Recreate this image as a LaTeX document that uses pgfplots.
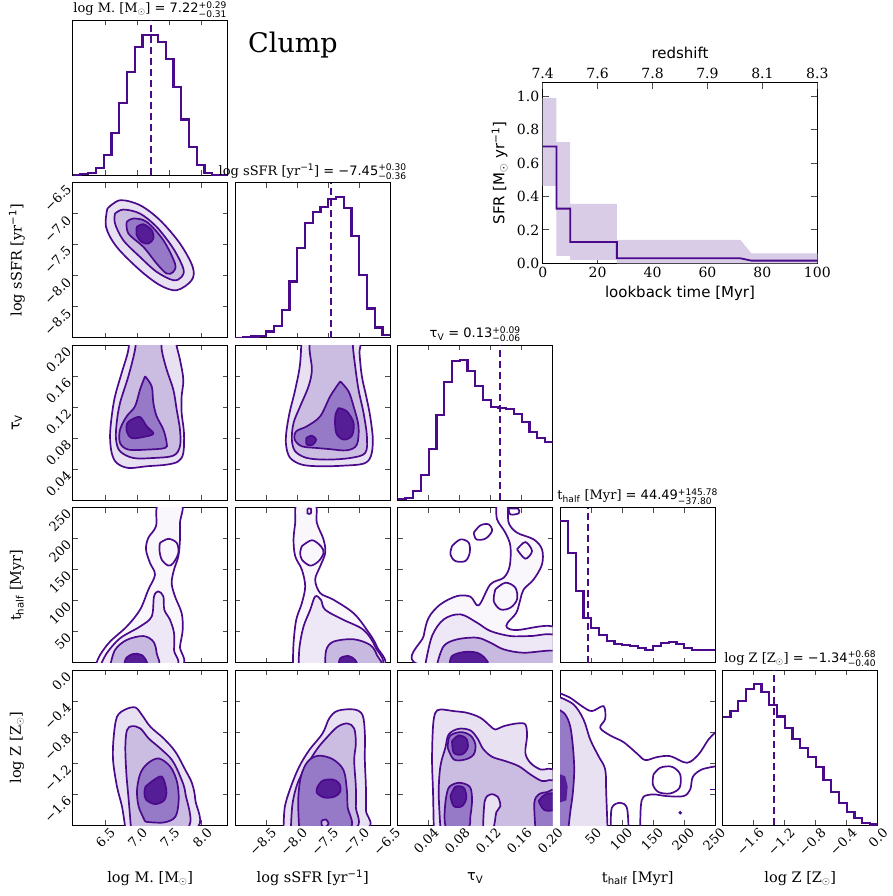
\documentclass[border=0pt]{standalone}
\usepackage{fontspec}
\setmainfont{DejaVu Serif}
\setsansfont{DejaVu Sans}
\usepackage{amsmath}
\usepackage{pgfplots}
\pgfplotsset{compat=1.18}
\definecolor{cl}{RGB}{75,10,140}
\definecolor{fa}{RGB}{232,225,242}
\definecolor{fb}{RGB}{203,188,226}
\definecolor{fc}{RGB}{150,122,200}
\definecolor{fd}{RGB}{85,30,150}
\definecolor{ta}{RGB}{249,247,252}
\definecolor{tb}{RGB}{238,232,246}
\definecolor{tc}{RGB}{200,185,225}
\definecolor{band}{RGB}{216,204,230}
\newcommand{\fs}[2]{\fontsize{#1}{#2}\selectfont}
\newcommand{\val}[3]{\textsf{= #1}$^{\textsf{#2}}_{\textsf{#3}}$}
\pgfplotsset{
 cb/.style={scale only axis, width=155pt, height=155pt, anchor=north west,
   axis line style={black, line width=0.9pt},
   tick align=inside, major tick length=5pt,
   tick style={black!70, line width=0.9pt},
   xtick pos=both, ytick pos=both,
   xticklabels={}, yticklabels={},
   tick label style={font=\fs{13}{15}},
   title style={font=\fs{13}{15}, at={(0.5,1)}, anchor=south, yshift=-5pt, inner sep=2pt},
   label style={font=\fs{14.5}{17}},
 },
 ct/.style={draw=cl, line width=1.7pt, smooth, tension=0.55},
 hs/.style={draw=cl, line width=2.1pt, const plot mark left},
 dl/.style={draw=cl, line width=1.9pt, dash pattern=on 7pt off 4pt},
 hy/.style={ymin=0, ymax=1, ytick=\empty},
 xM/.style={xmin=6,xmax=8.4,xtick={6.5,7,7.5,8}},
 xS/.style={xmin=-9,xmax=-6.5,xtick={-8.5,-8,-7.5,-7,-6.5}},
 xT/.style={xmin=0,xmax=0.2,xtick={0.04,0.08,0.12,0.16,0.2}},
 xH/.style={xmin=0,xmax=250,xtick={50,100,150,200,250}},
 xZ/.style={xmin=-2,xmax=0,xtick={-1.6,-1.2,-0.8,-0.4,0}},
 yS/.style={ymin=-9,ymax=-6.5,ytick={-8.5,-8,-7.5,-7,-6.5}},
 yT/.style={ymin=0,ymax=0.2,ytick={0.04,0.08,0.12,0.16,0.2}},
 yH/.style={ymin=0,ymax=250,ytick={50,100,150,200,250}},
 yZ/.style={ymin=-2,ymax=0,ytick={-1.6,-1.2,-0.8,-0.4,0}},
 lx/.style={xticklabel style={rotate=45, anchor=north east, xshift=5pt, yshift=-1pt},
   xlabel style={at={(axis description cs:0.5,-0.342)}, anchor=center}},
 ly/.style={yticklabel style={rotate=45, anchor=east, xshift=-2pt},
   ylabel style={at={(axis description cs:-0.36,0.5)}, anchor=center}},
 lxM/.style={lx, xticklabels={6.5,7.0,7.5,8.0}, xlabel={log M. [M$_\odot$]}},
 lxS/.style={lx, xticklabels={−8.5,−8.0,−7.5,−7.0,−6.5}, xlabel={log sSFR [yr\textsuperscript{\textsf{−1}}]}},
 lxT/.style={lx, xticklabels={0.04,0.08,0.12,0.16,0.20}, xlabel={\textsf{τ\textsubscript{V}}}},
 lxH/.style={lx, xticklabels={50,100,150,200,250}, xlabel={t\textsubscript{\textsf{half}} [Myr]}},
 lxZ/.style={lx, xticklabels={−1.6,−1.2,−0.8,−0.4,0.0}, xlabel={log Z [Z$_\odot$]}},
 lyS/.style={ly, yticklabels={−8.5,−8.0,−7.5,−7.0,−6.5}, ylabel={log sSFR [yr\textsuperscript{\textsf{−1}}]}},
 lyT/.style={ly, yticklabels={0.04,0.08,0.12,0.16,0.20}, ylabel={\textsf{τ\textsubscript{V}}}},
 lyH/.style={ly, yticklabels={50,100,150,200,250}, ylabel={t\textsubscript{\textsf{half}} [Myr]}},
 lyZ/.style={ly, yticklabels={−1.6,−1.2,−0.8,−0.4,0.0}, ylabel={log Z [Z$_\odot$]}},
}
\begin{document}
\begin{tikzpicture}
\path[use as bounding box] (0,0) rectangle (893pt,-896pt);
\node[font=\fs{27}{30}] at (293pt,-45pt) {Clump};

% ===== row 0: log M hist
\begin{axis}[cb, xM, hy, at={(72.7pt,-20.5pt)}, title={log M. [M$_\odot$] \val{7.22}{+0.29}{−0.31}}]
\addplot[hs] coordinates {(6.00,0.004)(6.12,0.01)(6.24,0.015)(6.36,0.048)(6.48,0.134)(6.60,0.275)(6.72,0.468)(6.84,0.669)(6.96,0.829)(7.08,0.909)(7.20,0.909)(7.32,0.859)(7.44,0.749)(7.56,0.571)(7.68,0.361)(7.80,0.182)(7.92,0.067)(8.04,0.019)(8.16,0.004)(8.28,0.002)(8.40,0.002)};
\addplot[dl] coordinates {(7.215,0)(7.215,1)};
\end{axis}

% ===== row 1
\begin{axis}[cb, xM, yS, lyS, at={(72.7pt,-182.9pt)}]
\addplot[ct, fill=fa] coordinates {(6.537,-6.914)(6.733,-6.78)(7.042,-6.86)(7.352,-7.102)(7.661,-7.478)(7.858,-7.855)(7.842,-8.07)(7.61,-8.231)(7.352,-8.15)(7.042,-7.909)(6.681,-7.532)(6.516,-7.21)(6.537,-6.914)};
\addplot[ct, fill=fb] coordinates {(6.655,-6.995)(6.784,-6.93)(7.042,-6.995)(7.3,-7.21)(7.558,-7.559)(7.713,-7.882)(7.687,-8.016)(7.558,-8.07)(7.3,-7.935)(7.042,-7.694)(6.784,-7.425)(6.655,-7.156)(6.655,-6.995)};
\addplot[ct, fill=fc] coordinates {(6.836,-7.129)(6.939,-7.075)(7.146,-7.129)(7.404,-7.425)(7.584,-7.801)(7.558,-7.935)(7.455,-7.962)(7.3,-7.801)(7.094,-7.532)(6.862,-7.317)(6.836,-7.129)};
\addplot[ct, fill=fd] coordinates {(6.991,-7.21)(7.094,-7.167)(7.223,-7.263)(7.249,-7.398)(7.171,-7.478)(7.068,-7.452)(6.991,-7.344)(6.991,-7.21)};
\end{axis}
\begin{axis}[cb, xS, hy, at={(235.2pt,-182.9pt)}, title={log sSFR [yr\textsuperscript{\textsf{−1}}] \val{−7.45}{+0.30}{−0.36}}]
\addplot[hs] coordinates {(-9.000,0.002)(-8.875,0.004)(-8.750,0.009)(-8.625,0.015)(-8.500,0.041)(-8.375,0.075)(-8.250,0.181)(-8.125,0.364)(-8.000,0.58)(-7.875,0.739)(-7.750,0.81)(-7.625,0.847)(-7.500,0.897)(-7.375,0.91)(-7.250,0.838)(-7.125,0.655)(-7.000,0.407)(-6.875,0.19)(-6.750,0.067)(-6.625,0.019)(-6.500,0.019)};
\addplot[dl] coordinates {(-7.45,0)(-7.45,1)};
\end{axis}

% ===== row 2
\begin{axis}[cb, xM, yT, lyT, at={(72.7pt,-345.3pt)}]
\addplot[ct, fill=fa] coordinates {(6.8875,0.2245)(6.862,0.1944)(6.758,0.1643)(6.655,0.1342)(6.604,0.1084)(6.578,0.0826)(6.604,0.0611)(6.681,0.0482)(6.862,0.0417)(7.146,0.0439)(7.455,0.046)(7.636,0.0503)(7.713,0.0611)(7.723,0.0869)(7.687,0.1127)(7.687,0.1342)(7.713,0.1557)(7.661,0.1815)(7.6,0.203)(7.584,0.2245)(6.8875,0.2245)};
\addplot[ct, fill=fb] coordinates {(7.001,0.2245)(6.965,0.1944)(6.862,0.16)(6.733,0.1256)(6.681,0.0998)(6.671,0.0783)(6.733,0.0632)(6.939,0.0546)(7.249,0.0546)(7.558,0.0576)(7.661,0.0697)(7.661,0.0912)(7.61,0.117)(7.558,0.1428)(7.455,0.1686)(7.378,0.1944)(7.352,0.2245)(7.001,0.2245)};
\addplot[ct, fill=fc] coordinates {(7.12,0.16)(7.223,0.1471)(7.249,0.1256)(7.3,0.1084)(7.404,0.0912)(7.455,0.074)(7.429,0.0675)(7.146,0.0654)(6.862,0.0654)(6.733,0.074)(6.733,0.0912)(6.836,0.1084)(6.965,0.1213)(7.042,0.1428)(7.12,0.16)};
\addplot[ct, fill=fd] coordinates {(6.913,0.1041)(7.042,0.1075)(7.146,0.0955)(7.249,0.086)(7.094,0.0817)(6.913,0.0804)(6.836,0.089)(6.846,0.0998)(6.913,0.1041)};
\end{axis}
\begin{axis}[cb, xS, yT, at={(235.2pt,-345.3pt)}]
\addplot[ct, fill=fa] coordinates {(-7.925,0.2245)(-7.952,0.1772)(-8.032,0.1428)(-8.124,0.1127)(-8.177,0.0869)(-8.177,0.0697)(-8.113,0.0546)(-7.925,0.046)(-7.629,0.0439)(-7.253,0.0447)(-6.93,0.0473)(-6.812,0.0568)(-6.78,0.0783)(-6.823,0.1084)(-6.887,0.1342)(-6.957,0.16)(-6.995,0.1901)(-7.011,0.2245)(-7.925,0.2245)};
\addplot[ct, fill=fb] coordinates {(-7.801,0.2245)(-7.801,0.1944)(-7.763,0.1686)(-7.817,0.1471)(-7.952,0.1213)(-8.059,0.0998)(-8.086,0.0783)(-8.032,0.0632)(-7.844,0.0546)(-7.522,0.0525)(-7.145,0.0546)(-6.903,0.0611)(-6.876,0.0826)(-6.93,0.1127)(-7.011,0.1428)(-7.065,0.1729)(-7.102,0.1987)(-7.118,0.2245)(-7.801,0.2245)};
\addplot[ct, fill=fc] coordinates {(-7.306,0.1535)(-7.172,0.1406)(-7.091,0.1213)(-7.011,0.0955)(-7.038,0.0718)(-7.199,0.0645)(-7.495,0.0662)(-7.683,0.0675)(-7.925,0.0697)(-8.040,0.0783)(-8.016,0.089)(-7.844,0.0955)(-7.629,0.1084)(-7.468,0.1342)(-7.306,0.1535)};
\addplot[ct, fill=fd] coordinates {(-7.333,0.1191)(-7.199,0.1148)(-7.091,0.0998)(-7.118,0.0834)(-7.253,0.0783)(-7.371,0.0869)(-7.387,0.1084)(-7.333,0.1191)};
\addplot[ct, fill=fd] coordinates {(-7.855,0.0804)(-7.763,0.0834)(-7.694,0.0783)(-7.747,0.0718)(-7.844,0.0718)(-7.855,0.0804)};
\end{axis}
\begin{axis}[cb, xT, hy, at={(397.7pt,-345.3pt)}, title={\textsf{τ\textsubscript{V}} \val{0.13}{+0.09}{−0.06}}]
\addplot[hs] coordinates {(0.00,0.006)(0.01,0.017)(0.02,0.06)(0.03,0.161)(0.04,0.329)(0.05,0.548)(0.06,0.766)(0.07,0.901)(0.08,0.908)(0.09,0.834)(0.10,0.735)(0.11,0.647)(0.12,0.6)(0.13,0.596)(0.14,0.591)(0.15,0.559)(0.16,0.503)(0.17,0.443)(0.18,0.4)(0.19,0.376)(0.20,0.376)};
\addplot[dl] coordinates {(0.1316,0)(0.1316,1)};
\end{axis}

% ===== row 3
\begin{axis}[cb, xM, yH, lyH, at={(72.7pt,-507.7pt)}]
\addplot[ct, fill=ta] coordinates {(6.346,-6.5)(6.423,12.4)(6.578,34)(6.836,58.3)(7.042,85.3)(7.171,117.7)(7.274,142)(7.197,160.9)(7.135,182.5)(7.171,201.4)(7.29,220.3)(7.326,256)(7.687,256)(7.661,225.7)(7.661,198.7)(7.636,171.7)(7.569,150.1)(7.532,128.5)(7.584,106.9)(7.687,79.9)(7.703,52.9)(7.661,25.9)(7.636,-6.5)(6.346,-6.5)};
\addplot[ct] coordinates {(7.352,193.3)(7.481,199.8)(7.61,193.3)(7.636,177.1)(7.558,160.9)(7.481,156.6)(7.378,166.3)(7.342,182.5)(7.352,193.3)};
\addplot[ct, fill=tb] coordinates {(6.423,-6.5)(6.526,15.1)(6.733,39.4)(7.042,58.3)(7.223,74.5)(7.259,106.9)(7.326,115)(7.404,106.9)(7.419,85.3)(7.507,69.1)(7.569,47.5)(7.569,20.5)(7.558,-6.5)(6.423,-6.5)};
\addplot[ct, fill=tc] coordinates {(6.577,-6.5)(6.655,20.5)(6.836,36.7)(7.094,43)(7.249,34)(7.3,15.1)(7.29,-6.5)(6.577,-6.5)};
\addplot[ct, fill=fd] coordinates {(6.795,-6.5)(6.826,7)(6.939,14.2)(7.068,12.4)(7.146,1.6)(7.135,-6.5)(6.795,-6.5)};
\end{axis}
\begin{axis}[cb, xS, yH, at={(235.2pt,-507.7pt)}]
\addplot[ct, fill=ta] coordinates {(-8.07,-6.5)(-8.059,31.3)(-8.016,69.1)(-7.925,96.1)(-7.871,123.1)(-7.925,150.1)(-8.032,171.7)(-8.059,198.7)(-8.032,225.7)(-8.005,256)(-7.71,256)(-7.683,225.7)(-7.575,198.7)(-7.548,177.1)(-7.629,155.5)(-7.71,133.9)(-7.629,112.3)(-7.414,101.5)(-7.091,79.9)(-6.876,52.9)(-6.715,25.9)(-6.661,-6.5)(-8.07,-6.5)};
\addplot[ct] coordinates {(-7.925,187.9)(-7.763,197.6)(-7.618,187.9)(-7.575,177.1)(-7.656,163.6)(-7.79,156.6)(-7.925,166.3)(-7.952,178.2)(-7.925,187.9)};
\addplot[ct] coordinates {(-7.833,248.4)(-7.78,248.4)(-7.78,240.8)(-7.833,240.8)(-7.833,248.4)};
\addplot[ct, fill=tb] coordinates {(-7.978,-6.5)(-7.962,25.9)(-7.898,58.3)(-7.79,85.3)(-7.71,106.9)(-7.618,101.5)(-7.548,85.3)(-7.253,69.1)(-6.93,52.9)(-6.742,25.9)(-6.688,-6.5)(-7.978,-6.5)};
\addplot[ct, fill=tc] coordinates {(-7.548,-6.5)(-7.532,20.5)(-7.414,34)(-7.091,37.8)(-6.823,28.6)(-6.715,12.4)(-6.688,-6.5)(-7.548,-6.5)};
\addplot[ct, fill=fd] coordinates {(-7.333,-6.5)(-7.306,7)(-7.172,10.8)(-7.065,4.3)(-7.048,-6.5)(-7.333,-6.5)};
\end{axis}
\begin{axis}[cb, xT, yH, at={(397.7pt,-507.7pt)}]
\addplot[ct, fill=ta] coordinates {(0.1273,255.4)(0.1282,231.2)(0.1389,209.7)(0.1454,188.2)(0.1445,155.9)(0.1368,137.1)(0.1196,126.4)(0.1045,92.5)(0.0938,106.5)(0.0766,107.5)(0.0551,94.1)(0.04,72.6)(0.0335,43)(0.0284,-2.7)(0.2034,-2.7)(0.2034,56.5)(0.154,52.7)(0.1411,56.5)(0.1419,64.5)(0.1531,80.7)(0.1583,102.2)(0.1626,118.3)(0.1755,134.4)(0.1862,158.6)(0.1862,182.8)(0.1755,198.9)(0.154,209.7)(0.1432,225.8)(0.1411,255.4)(0.1273,255.4)};
\addplot[ct] coordinates {(0.126,118.3)(0.1389,129)(0.1518,121)(0.154,102.2)(0.1454,88.7)(0.1325,86)(0.1239,99.5)(0.126,118.3)};
\addplot[ct] coordinates {(0.0701,188.2)(0.0809,198.9)(0.0916,193.6)(0.0929,177.4)(0.0873,164)(0.0744,164)(0.068,174.7)(0.0701,188.2)};
\addplot[ct] coordinates {(0.0981,209.7)(0.1067,221.5)(0.1174,223.1)(0.1217,212.4)(0.1131,200)(0.1015,198.9)(0.0981,209.7)};
\addplot[ct] coordinates {(0.154,182.8)(0.1647,194.6)(0.1733,180.1)(0.1647,167.7)(0.154,182.8)};
\addplot[ct] coordinates {(0.1432,248.4)(0.1553,248.4)(0.1561,240.9)(0.1454,239.2)(0.1432,248.4)};
\addplot[ct, fill=tb] coordinates {(0.0357,-2.7)(0.0443,43)(0.0594,69.9)(0.0809,78)(0.1024,64.5)(0.1196,51.1)(0.1454,43)(0.1712,43)(0.2034,43)(0.2034,-2.7)(0.0357,-2.7)};
\addplot[ct, fill=tc] coordinates {(0.0508,-2.7)(0.0594,26.9)(0.0766,37.6)(0.1024,40.3)(0.1196,32.3)(0.1368,21.5)(0.1626,16.1)(0.2034,18.8)(0.2034,-2.7)(0.0508,-2.7)};
\addplot[ct, fill=fd] coordinates {(0.0671,-2.7)(0.0701,10.8)(0.0852,17.2)(0.1024,16.1)(0.1131,6.5)(0.1131,-2.7)(0.0671,-2.7)};
\end{axis}
\begin{axis}[cb, xH, hy, at={(560.2pt,-507.7pt)}, title={t\textsubscript{\textsf{half}} [Myr] \val{44.49}{+145.78}{−37.80}}]
\addplot[hs] coordinates {(0,0.912)(12.5,0.71)(25,0.462)(37.5,0.29)(50,0.226)(62.5,0.176)(75,0.14)(87.5,0.123)(100,0.114)(112.5,0.106)(125,0.093)(137.5,0.08)(150,0.106)(162.5,0.125)(175,0.135)(187.5,0.123)(200,0.097)(212.5,0.08)(225,0.08)(237.5,0.084)(250,0.084)};
\addplot[dl] coordinates {(44.49,0)(44.49,1)};
\end{axis}

% ===== row 4
\begin{axis}[cb, xM, yZ, lxM, lyZ, at={(72.7pt,-670.1pt)}]
\addplot[ct, fill=fa] coordinates {(6.815,-2.043)(6.764,-1.763)(6.686,-1.505)(6.625,-1.161)(6.635,-0.86)(6.686,-0.602)(6.815,-0.508)(6.97,-0.482)(7.074,-0.581)(7.203,-0.731)(7.409,-0.882)(7.59,-1.054)(7.745,-1.29)(7.848,-1.462)(7.899,-1.677)(7.899,-2.043)(6.815,-2.043)};
\addplot[ct, fill=fb] coordinates {(6.903,-2.043)(6.867,-1.677)(6.831,-1.333)(6.815,-0.989)(6.841,-0.774)(6.919,-0.723)(7.048,-0.753)(7.177,-0.882)(7.357,-1.011)(7.538,-1.161)(7.667,-1.376)(7.745,-1.591)(7.77,-2.043)(6.903,-2.043)};
\addplot[ct, fill=fc] coordinates {(7.125,-1.957)(7.022,-1.763)(6.996,-1.548)(7.048,-1.333)(7.161,-1.204)(7.332,-1.14)(7.512,-1.247)(7.615,-1.441)(7.641,-1.677)(7.59,-1.892)(7.409,-1.966)(7.125,-1.957)};
\addplot[ct, fill=fd] coordinates {(7.125,-1.505)(7.254,-1.419)(7.383,-1.376)(7.45,-1.548)(7.419,-1.677)(7.28,-1.729)(7.141,-1.677)(7.11,-1.591)(7.125,-1.505)};
\end{axis}
\begin{axis}[cb, xS, yZ, lxS, at={(235.2pt,-670.1pt)}]
\addplot[ct, fill=fa] coordinates {(-8.22,-2.043)(-8.199,-1.763)(-8.102,-1.505)(-7.968,-1.247)(-7.806,-1.032)(-7.591,-0.817)(-7.484,-0.624)(-7.349,-0.525)(-7.081,-0.508)(-6.946,-0.581)(-6.909,-0.817)(-6.909,-1.161)(-6.892,-1.505)(-6.892,-1.806)(-6.909,-2.043)(-8.22,-2.043)};
\addplot[ct, fill=fb] coordinates {(-8.102,-2.043)(-8.075,-1.72)(-7.995,-1.462)(-7.86,-1.247)(-7.672,-1.011)(-7.511,-0.86)(-7.349,-0.731)(-7.188,-0.688)(-7.081,-0.753)(-7.054,-0.946)(-7.081,-1.161)(-7.054,-1.505)(-7.054,-1.763)(-7.081,-2.043)(-8.102,-2.043)};
\addplot[ct, fill=fc] coordinates {(-7.968,-2.043)(-7.984,-1.677)(-7.941,-1.376)(-7.833,-1.183)(-7.661,-1.105)(-7.43,-1.148)(-7.253,-1.29)(-7.199,-1.548)(-7.188,-1.763)(-7.161,-2.043)(-7.968,-2.043)};
\addplot[ct, fill=fd] coordinates {(-7.672,-1.505)(-7.591,-1.428)(-7.43,-1.411)(-7.323,-1.462)(-7.306,-1.57)(-7.403,-1.634)(-7.565,-1.643)(-7.683,-1.583)(-7.672,-1.505)};
\addplot[ct, fill=fb] coordinates {(-7.608,-1.944)(-7.538,-1.927)(-7.495,-1.978)(-7.538,-2.022)(-7.602,-2.009)(-7.608,-1.944)};
\end{axis}
\begin{axis}[cb, xT, yZ, lxT, at={(397.7pt,-670.1pt)}]
\addplot[ct, fill=fa] coordinates {(0.0465,-2.034)(0.0456,-1.583)(0.0443,-1.153)(0.0456,-0.723)(0.0486,-0.551)(0.0551,-0.508)(0.0723,-0.529)(0.0895,-0.551)(0.1067,-0.615)(0.1196,-0.723)(0.126,-0.766)(0.1368,-0.723)(0.154,-0.688)(0.1647,-0.701)(0.1669,-0.852)(0.1647,-1.067)(0.1712,-1.196)(0.1841,-1.282)(0.2034,-1.333)(0.2034,-2.034)(0.0465,-2.034)};
\addplot[ct, fill=fb] coordinates {(0.0551,-2.034)(0.0529,-1.583)(0.0551,-1.239)(0.0615,-1.002)(0.0658,-0.83)(0.0787,-0.757)(0.0938,-0.778)(0.1032,-0.886)(0.1101,-1.015)(0.1217,-1.118)(0.1389,-1.174)(0.1561,-1.239)(0.1712,-1.346)(0.1862,-1.432)(0.2034,-1.462)(0.2034,-2.034)(0.0551,-2.034)};
\addplot[ct, fill=fa] coordinates {(0.1101,-2.04)(0.1123,-1.69)(0.1196,-1.604)(0.129,-1.634)(0.1325,-1.755)(0.1273,-1.832)(0.123,-2.04)(0.1101,-2.04)};
\addplot[ct, fill=fc] coordinates {(0.0645,-1.002)(0.0671,-0.852)(0.0809,-0.8)(0.0938,-0.843)(0.1002,-0.959)(0.0981,-1.088)(0.0873,-1.153)(0.0723,-1.153)(0.0645,-1.002)};
\addplot[ct, fill=fc] coordinates {(0.0615,-1.712)(0.0658,-1.518)(0.0787,-1.454)(0.0929,-1.505)(0.0959,-1.669)(0.0938,-1.884)(0.0903,-2.034)(0.0628,-2.034)(0.0615,-1.712)};
\addplot[ct, fill=fc] coordinates {(0.1776,-2.034)(0.1763,-1.712)(0.1819,-1.604)(0.1927,-1.574)(0.2034,-1.574)(0.2034,-2.034)(0.1776,-2.034)};
\addplot[ct, fill=fd] coordinates {(0.0701,-0.916)(0.0787,-0.843)(0.0886,-0.886)(0.0903,-1.002)(0.083,-1.088)(0.0723,-1.067)(0.0701,-0.916)};
\addplot[ct, fill=fd] coordinates {(0.068,-1.626)(0.0744,-1.505)(0.0852,-1.518)(0.0886,-1.647)(0.083,-1.755)(0.0723,-1.755)(0.068,-1.626)};
\addplot[ct, fill=fd] coordinates {(0.1819,-1.69)(0.1905,-1.604)(0.2034,-1.604)(0.2034,-1.789)(0.1892,-1.806)(0.1819,-1.69)};
\end{axis}
\begin{axis}[cb, xH, yZ, lxH, at={(560.2pt,-670.1pt)}]
\addplot[draw=none, fill=fa] coordinates {(-5,-0.34)(-2.7,-0.344)(21.5,-0.443)(37.6,-0.637)(48.4,-0.895)(61.8,-1.11)(72.6,-1.282)(74.2,-1.583)(76.3,-2.05)(-5,-2.05)};
\addplot[draw=none, fill=fc] coordinates {(-5,-0.5)(-2.7,-0.508)(8.1,-0.572)(16.1,-0.723)(20.4,-0.981)(22.6,-1.282)(20.4,-1.583)(16.1,-1.841)(13.4,-2.05)(-5,-2.05)};
\addplot[draw=none, fill=fd] coordinates {(-5,-1.33)(8,-1.37)(12,-1.5)(10,-1.68)(-5,-1.72)};
\addplot[ct] coordinates {(-2.7,-0.292)(16.1,-0.357)(34.9,-0.465)(51.1,-0.529)(69.9,-0.465)(72.6,-0.628)(64.5,-0.744)(80.6,-0.843)(102.1,-0.929)(123.6,-1.075)(137.1,-1.161)(155.9,-1.123)(177.4,-1.11)(204.3,-1.196)(223.1,-1.088)(239.2,-0.895)(252.7,-0.787)};
\addplot[ct] coordinates {(252.7,-1.239)(228.5,-1.282)(214,-1.376)(209.7,-1.54)(198.9,-1.626)(172,-1.626)(150.5,-1.604)(134.4,-1.634)(130.1,-1.755)(129,-2.034)};
\addplot[ct] coordinates {(-2.7,-0.344)(21.5,-0.443)(37.6,-0.637)(48.4,-0.895)(61.8,-1.11)(72.6,-1.282)(74.2,-1.583)(76.3,-2.034)};
\addplot[ct] coordinates {(-2.7,-0.508)(8.1,-0.572)(16.1,-0.723)(20.4,-0.981)(22.6,-1.282)(20.4,-1.583)(16.1,-1.841)(13.4,-2.034)};
\addplot[ct] coordinates {(81.7,-2.034)(83.3,-1.776)(96.8,-1.712)(107.5,-1.776)(110.2,-2.034)};
\addplot[ct] coordinates {(150.5,-1.346)(161.3,-1.26)(180.1,-1.247)(193.5,-1.346)(192.5,-1.518)(177.4,-1.591)(158.6,-1.574)(149.4,-1.475)(150.5,-1.346)};
\addplot[ct] coordinates {(241.9,-1.54)(252.7,-1.54)};
\addplot[cl, only marks, mark=*, mark size=1.6pt] coordinates {(193.5,-1.841)};
\end{axis}
\begin{axis}[cb, xZ, hy, lxZ, at={(722.7pt,-670.1pt)}, title={log Z [Z$_\odot$] \val{−1.34}{+0.68}{−0.40}}]
\addplot[hs] coordinates {(-2.0,0.697)(-1.9,0.738)(-1.8,0.803)(-1.7,0.881)(-1.6,0.911)(-1.5,0.859)(-1.4,0.777)(-1.3,0.701)(-1.2,0.628)(-1.1,0.556)(-1.0,0.498)(-0.9,0.437)(-0.8,0.374)(-0.7,0.292)(-0.6,0.216)(-0.5,0.145)(-0.4,0.084)(-0.3,0.043)(-0.2,0.015)(-0.1,0.004)(0.0,0.004)};
\addplot[dl] coordinates {(-1.342,0)(-1.342,1)};
\end{axis}

% ===== SFH inset
\begin{axis}[at={(542.7pt,-82.7pt)}, anchor=north west, scale only axis, width=274.6pt, height=180.6pt,
 xmin=0,xmax=100,ymin=0,ymax=1.083,
 axis line style={black, line width=0.9pt}, tick align=inside, major tick length=6pt,
 tick style={black!70,line width=0.9pt},
 xtick={0,20,40,60,80,100}, xticklabels={0,20,40,60,80,100}, xtick pos=left,
 ytick={0,0.2,0.4,0.6,0.8,1.0}, yticklabels={0.0,0.2,0.4,0.6,0.8,1.0}, ytick pos=both,
 tick label style={font=\fs{14}{16}},
 label style={font=\fs{15}{18}},
 xlabel={\textsf{lookback time [Myr]}},
 ylabel={\textsf{SFR [M$_\odot$ yr$^{\textsf{−1}}$]}},
 xlabel style={at={(axis description cs:0.5,-0.166)}, anchor=center},
 ylabel style={at={(axis description cs:-0.157,0.5)}, anchor=center}]
\addplot[draw=none, fill=band] coordinates {(0,0.992)(5,0.992)(5,0.726)(10,0.726)(10,0.356)(27,0.356)(27,0.14)(72,0.14)(76,0.06)(100,0.06)(100,0)(27,0)(27,0.02)(10,0.02)(10,0.044)(5,0.044)(5,0.464)(0,0.464)};
\addplot[draw=cl, line width=1.8pt] coordinates {(0,0.70)(5,0.70)(5,0.328)(10,0.328)(10,0.128)(27,0.128)(27,0.03)(72,0.03)(76,0.016)(100,0.016)};
\end{axis}
\begin{axis}[at={(542.7pt,-82.7pt)}, anchor=north west, scale only axis, width=274.6pt, height=180.6pt,
 xmin=0,xmax=100,ymin=0,ymax=1.083, axis x line*=top, axis y line=none,
 axis line style={black, line width=0.9pt}, tick align=inside, major tick length=6pt,
 tick style={black!70,line width=0.9pt},
 xtick={0,20,40,60,80,100}, xticklabels={7.4,7.6,7.8,7.9,8.1,8.3},
 tick label style={font=\fs{14}{16}},
 label style={font=\fs{15}{18}},
 xlabel={\textsf{redshift}},
 xlabel style={at={(axis description cs:0.5,1.166)}, anchor=center}]
\addplot[draw=none] coordinates {(0,0)(100,1)};
\end{axis}
\end{tikzpicture}
\end{document}
